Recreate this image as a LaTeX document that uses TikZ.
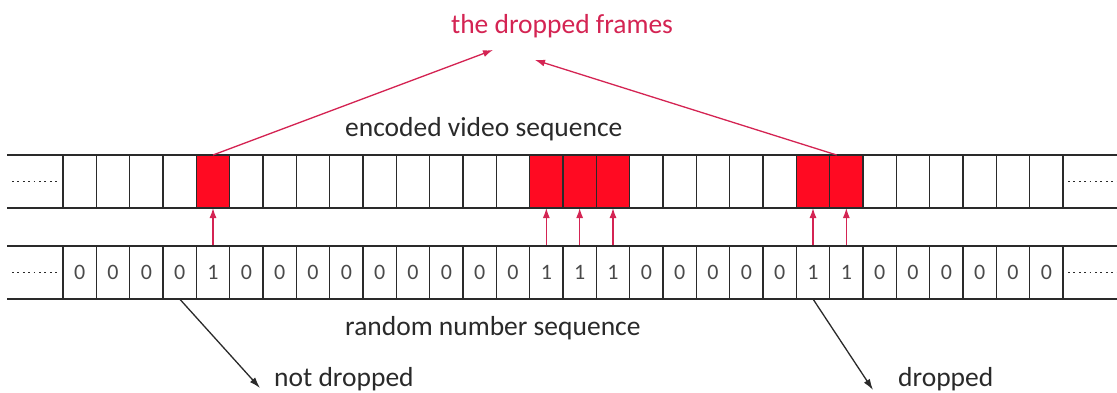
\documentclass[tikz,border=0pt]{standalone}
\usepackage{fontspec}
\setmainfont{Carlito}
\usetikzlibrary{positioning,arrows.meta}
\definecolor{framered}{HTML}{FF0A22}
\definecolor{pickred}{HTML}{D42453}
\definecolor{ink}{HTML}{2A2A2A}

\begin{document}
\begin{tikzpicture}[x=1pt,y=1pt,
      cell/.style={draw=ink,line width=1.4pt,minimum width=33.333pt,minimum height=53pt,
        inner sep=0pt,outer sep=0pt,text=ink!85,font=\fontsize{22}{26}\selectfont},
      bit0/.style={},
      bit1/.style={fill=framered},
      rail/.style={ink,line width=1.4pt},
      dots/.style={ink,line width=1.8pt,dash pattern=on 1.8pt off 3.6pt},
      lab/.style={inner sep=0pt,text=ink,font=\fontsize{27.5}{33}\selectfont},
      pick/.style={-{Latex[length=10pt,width=7pt]},pickred,line width=1.3pt},
      fate/.style={-{Latex[length=11pt,width=7pt]},ink,line width=1.3pt}]
    \useasboundingbox (0,0) rectangle (1117,392);
    \foreach \b [count=\i from 0, remember=\i as \j (initially 0)] in
        {0,0,0,0,1,0,0,0,0,0,0,0,0,0,1,1,1,0,0,0,0,0,1,1,0,0,0,0,0,0}{
      \ifnum\i=0
        \node[cell,bit\b] (v0) at (79.67,210.5) {};
      \else
        \node[cell,bit\b,right=0pt of v\j] (v\i) {};
      \fi
      \node[cell,below=38pt of v\i] (r\i) {\b};
      \ifnum\b=1 \draw[pick] (r\i) -- (v\i); \fi
    }
    \foreach \row/\last in {v/v29,r/r29}{
      \draw[rail] ([xshift=-56pt]\row0.north west) -- ([xshift=54pt]\last.north east);
      \draw[rail] ([xshift=-56pt]\row0.south west) -- ([xshift=54pt]\last.south east);
      \draw[dots] ([xshift=-51pt]\row0.west) -- ([xshift=-3pt]\row0.west);
      \draw[dots] ([xshift=5pt]\last.east) -- ([xshift=54pt]\last.east);
    }
    \node[lab,anchor=base,text=pickred] (df) at (562,359) {the dropped frames};
    \node[lab,anchor=base west] (evs) at (345,256) {encoded video sequence};
    \node[lab,anchor=base west] (rns) at (345,57) {random number sequence};
    \node[lab,anchor=base west] (nd) at (274,6) {not dropped};
    \node[lab,anchor=base west] (dr) at (898,6) {dropped};
    \draw[pick] (v4.north) -- ([shift={(-69,-17)}]df.base);
    \draw[pick] ([xshift=7pt]v23.north west) -- ([shift={(-27,-27)}]df.base);
    \draw[fate] (r3.south) -- ([shift={(-14,-2)}]nd.base west);
    \draw[fate] (r22.south) -- ([shift={(-25,-4)}]dr.base west);
  \end{tikzpicture}
\end{document}
